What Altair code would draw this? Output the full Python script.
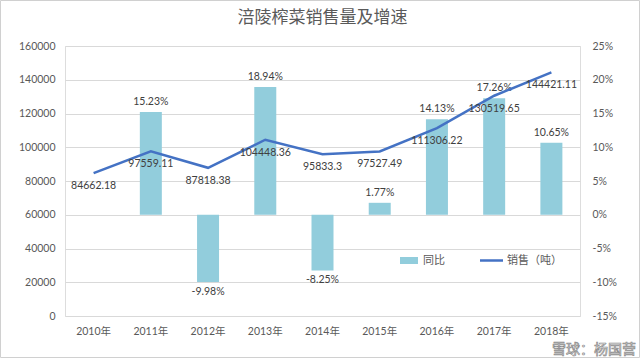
import altair as alt
import pandas as pd

years = ["2010年", "2011年", "2012年", "2013年", "2014年", "2015年", "2016年", "2017年", "2018年"]
sales = [84662.18, 97559.11, 87818.38, 104448.36, 95833.3, 97527.49, 111306.22, 130519.65, 144421.11]
growth = [None, 15.23, -9.98, 18.94, -8.25, 1.77, 14.13, 17.26, 10.65]

df = pd.DataFrame({"year": years, "sales": sales, "growth": growth})
df["sales_lbl"] = [repr(v) for v in sales]
df["growth_lbl"] = [("" if g is None or pd.isna(g) else f"{g:.2f}%") for g in growth]

FONT = "Lato, 'Noto Sans CJK SC', sans-serif"
BAR_C = "#92CDDC"
LINE_C = "#4472C4"
TXT_C = "#404040"

x = alt.X("year:N", sort=years, scale=alt.Scale(paddingInner=0, paddingOuter=0),
          axis=alt.Axis(title=None, domain=False, ticks=False, labelAngle=0,
                        labelPadding=10, labelColor="#595959", labelFontSize=10.5, labelFont=FONT))

yg_scale = alt.Scale(domain=[-15, 25], nice=False)
ys_scale = alt.Scale(domain=[0, 160000], nice=False)

g_axis = alt.Axis(orient="right", title=None, values=[-15, -10, -5, 0, 5, 10, 15, 20, 25],
                  labelExpr="datum.value + '%'", grid=False, domain=False, ticks=False,
                  labelPadding=12, labelColor="#595959", labelFontSize=10.5, labelFont=FONT)
s_axis = alt.Axis(orient="left", title=None, values=list(range(0, 160001, 20000)), format="d",
                  grid=True, gridColor="#D9D9D9", gridWidth=1, domain=False, ticks=False,
                  labelPadding=10, labelColor="#595959", labelFontSize=10.5, labelFont=FONT)

base = alt.Chart(df)
one = "datum.year == '2010年'"

frame = base.mark_rect(fill=None, stroke="#D0D0D0", strokeWidth=1).encode(
    x=alt.value(-64.5), x2=alt.value(574.5), y=alt.value(-45.5), y2=alt.value(311.5)).transform_filter(one)

bars = base.transform_filter("isValid(datum.growth)").mark_bar(size=22, color=BAR_C).encode(
    x=x, y=alt.Y("growth:Q", scale=yg_scale, axis=g_axis),
)
pos_txt = base.transform_filter("isValid(datum.growth) && datum.growth >= 0").mark_text(
    baseline="bottom", dy=-5, fontSize=10.5, color=TXT_C, font=FONT
).encode(x=x, y=alt.Y("growth:Q", scale=yg_scale, axis=g_axis), text="growth_lbl:N")
neg_txt = base.transform_filter("isValid(datum.growth) && datum.growth < 0").mark_text(
    baseline="top", dy=5, fontSize=10.5, color=TXT_C, font=FONT
).encode(x=x, y=alt.Y("growth:Q", scale=yg_scale, axis=g_axis), text="growth_lbl:N")

bar_layer = alt.layer(bars, pos_txt, neg_txt)

line = base.mark_line(color=LINE_C, strokeWidth=2.5).encode(
    x=x, y=alt.Y("sales:Q", scale=ys_scale, axis=s_axis),
)
line_txt = base.mark_text(baseline="top", dy=8, fontSize=10.5, color=TXT_C, font=FONT).encode(
    x=x, y=alt.Y("sales:Q", scale=ys_scale, axis=s_axis), text="sales_lbl:N"
)
line_layer = alt.layer(line, line_txt)

# legend
leg_bar = base.mark_rect(color=BAR_C).encode(
    x=alt.value(335), x2=alt.value(353), y=alt.value(211), y2=alt.value(218)).transform_filter(one)
leg_bar_t = base.mark_text(align="left", baseline="middle", fontSize=11, color="#595959", font=FONT).encode(
    x=alt.value(358), y=alt.value(214.5), text=alt.value("同比")).transform_filter(one)
leg_line = base.mark_rule(color=LINE_C, strokeWidth=2.5).encode(
    x=alt.value(415), x2=alt.value(438), y=alt.value(214.5)).transform_filter(one)
leg_line_t = base.mark_text(align="left", baseline="middle", fontSize=11, color="#595959", font=FONT).encode(
    x=alt.value(442), y=alt.value(214.5), text=alt.value("销售（吨）")).transform_filter(one)

# watermark
wm = base.mark_text(align="right", baseline="middle", fontSize=14, fill="#ffffff", stroke="#8a8a8a",
                    strokeWidth=0.7, font="'Noto Sans CJK SC', sans-serif").encode(
    x=alt.value(571), y=alt.value(304), text=alt.value("雪球：杨国营")).transform_filter(one)

chart = alt.layer(frame, bar_layer, line_layer, leg_bar, leg_bar_t, leg_line, leg_line_t, wm).resolve_scale(
    y="independent"
).properties(
    width=515, height=270,
    title=alt.TitleParams("涪陵榨菜销售量及增速", fontSize=17, font="'Noto Sans CJK SC', sans-serif",
                          fontWeight="normal", color="#595959", anchor="middle", offset=-27),
    autosize=alt.AutoSizeParams(type="none"),
    padding={"left": 65, "top": 46, "right": 60, "bottom": 42},
).configure_view(stroke=None).configure(background="white")

chart.save("out.html", embed_options={"renderer": "svg", "actions": False})
